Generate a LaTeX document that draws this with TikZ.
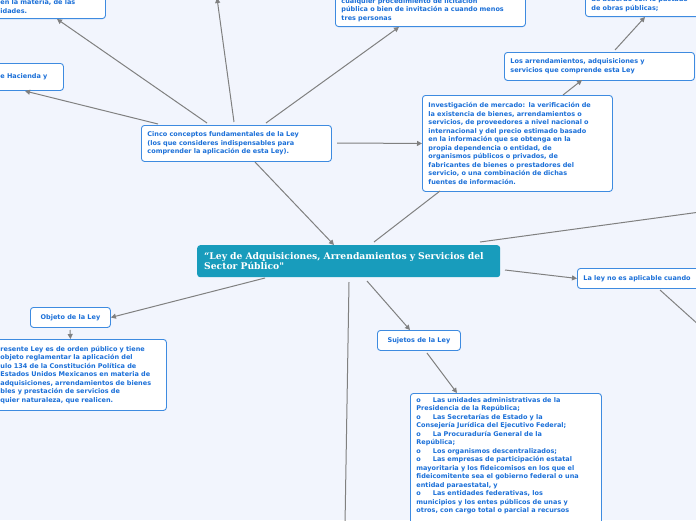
\documentclass[tikz,border=0pt]{standalone}
\usepackage{fontspec}
\setmainfont{DejaVu Sans}
\newfontfamily\titlefont{DejaVu Serif}
\usetikzlibrary{arrows.meta}
\definecolor{bg}{HTML}{F2F5FD}
\definecolor{txt}{HTML}{1A6FD8}
\definecolor{bord}{HTML}{3E8BE0}
\definecolor{mainc}{HTML}{189CBC}
\definecolor{edge}{HTML}{808080}
\tikzset{
 box/.style={draw=bord,line width=0.9pt,fill=white,rounded corners=3pt,anchor=north west,
  text=txt,font=\fontsize{6.5}{8.5}\selectfont\bfseries,align=left,inner xsep=6pt,inner ysep=4pt},
 mainbox/.style={fill=mainc,rounded corners=3pt,anchor=north west,text=white,
  font=\titlefont\fontsize{9.2}{10.5}\selectfont\bfseries,align=left,inner xsep=7pt,inner ysep=4pt},
 con/.style={draw=edge,line width=1pt},
 arr/.style={con,-{Triangle[length=5pt,width=5pt]}}
}
\begin{document}
\begin{tikzpicture}[x=1pt,y=-1pt]
\fill[bg] (0,0) rectangle (696,520);
\useasboundingbox (0,0) rectangle (696,520);
\clip (0,0) rectangle (696,520);
% nodes
\node[box,anchor=south west,minimum width=205pt,text width=193pt,inner ysep=5pt] (tl) at (-100,19) {\mbox{}\\\hspace*{94pt}en la materia, de las\\\hspace*{94pt}idades.};
\node[box,minimum width=160pt,minimum height=27pt,text width=150pt] (hac) at (-99,63) {\hspace*{93pt}e Hacienda y};
\node[box,anchor=south west,text width=178pt,inner ysep=5pt] (lic) at (335,27) {cualquier procedimiento de licitación\\pública o bien de invitación a cuando menos\\tres personas};
\node[box,anchor=south west,text width=180pt,inner ysep=5pt] (tr) at (585,17) {\mbox{}\\de acuerdo con lo pactado\\de obras públicas;};
\node[box,text width=178pt,minimum height=28pt] (arr) at (504,52) {Los arrendamientos, adquisiciones y\\servicios que comprende esta Ley};
\node[box,text width=178pt,minimum height=96pt] (inv) at (422,95) {Investigación de mercado: la verificación de\\la existencia de bienes, arrendamientos o\\servicios, de proveedores a nivel nacional o\\internacional y del precio estimado basado\\en la información que se obtenga en la\\propia dependencia o entidad, de\\organismos públicos o privados, de\\fabricantes de bienes o prestadores del\\servicio, o una combinación de dichas\\fuentes de información.};
\node[box,text width=178pt,minimum height=36pt] (cin) at (141,125) {Cinco conceptos fundamentales de la Ley\\(los que consideres indispensables para\\comprender la aplicación de esta Ley).};
\node[mainbox,minimum width=303pt,minimum height=32pt,text width=289pt] (main) at (197,245) {“Ley de Adquisiciones, Arrendamientos y Servicios del\\Sector Público"};
\node[box,minimum width=80pt,minimum height=20pt] (obj) at (30,307) {Objeto de la Ley};
\node[box,minimum width=266pt,minimum height=71pt,text width=254pt] (objt) at (-100,339) {\hspace*{94pt}resente Ley es de orden público y tiene\\\hspace*{94pt}objeto reglamentar la aplicación del\\\hspace*{94pt}ulo 134 de la Constitución Política de\\\hspace*{94pt}Estados Unidos Mexicanos en materia de\\\hspace*{94pt}adquisiciones, arrendamientos de bienes\\\hspace*{94pt}bles y prestación de servicios de\\\hspace*{94pt}quier naturaleza, que realicen.};
\node[box,minimum width=83pt,minimum height=20pt] (suj) at (377,330) {Sujetos de la Ley};
\node[box,text width=179pt] (sujt) at (410,393) {o\hspace{12pt}Las unidades administrativas de la\\Presidencia de la República;\\o\hspace{12pt}Las Secretarías de Estado y la\\Consejería Jurídica del Ejecutivo Federal;\\o\hspace{12pt}La Procuraduría General de la\\República;\\o\hspace{12pt}Los organismos descentralizados;\\o\hspace{12pt}Las empresas de participación estatal\\mayoritaria y los fideicomisos en los que el\\fideicomitente sea el gobierno federal o una\\entidad paraestatal, y\\o\hspace{12pt}Las entidades federativas, los\\municipios y los entes públicos de unas y\\otros, con cargo total o parcial a recursos\\\mbox{}\\\mbox{}\\\mbox{}};
\node[box,minimum width=160pt,minimum height=20pt,text width=148pt] (noap) at (577,268) {La ley no es aplicable cuando};
\coordinate (up) at (217,-2);
\coordinate (rt) at (700,212);
\coordinate (dr) at (700,326);
\coordinate (dn) at (345,525);
% connectors
\draw[arr] (207,123) -- (57,19);
\draw[arr] (158,124) -- (25,91);
\draw[arr] (234,122) -- (up);
\draw[arr] (266,123) -- (399,27);
\draw[arr] (337,143) -- (inv.west);
\draw[arr] (255,162) -- (334,245);
\draw[con] (374,242) -- (440,191);
\draw[arr] (563,95) -- (582,80);
\draw[arr] (615,50) -- (645,17);
\draw[con] (480,242) -- (rt);
\draw[arr] (505,270) -- (noap.west);
\draw[con] (660,290) -- (dr);
\draw[arr] (265,278) -- (obj.east);
\draw[arr] (70,330) -- (obj.south |- objt.north);
\draw[arr] (367,281) -- (410,330);
\draw[arr] (427,353) -- (457,393);
\draw[con] (349,282) -- (dn);
\end{tikzpicture}
\end{document}
